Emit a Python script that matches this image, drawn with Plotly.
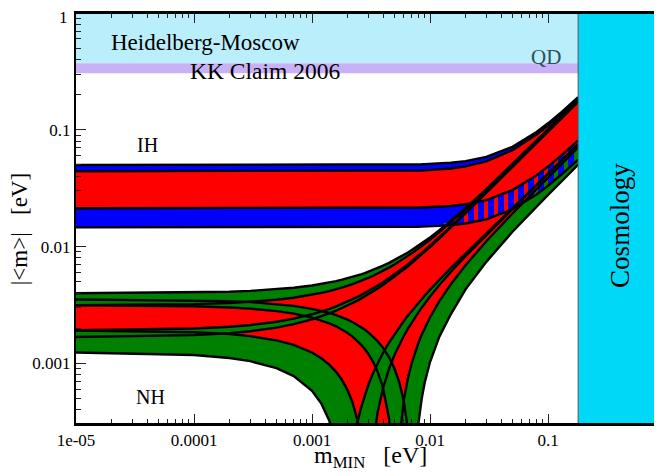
import numpy as np
import plotly.graph_objects as go

# lightest neutrino mass grid [eV]
m_min = [1e-5, 1e-4, 2e-4, 3e-4, 5e-4, 7e-4, 1e-3, 1.2e-3, 1.4e-3, 1.6e-3, 1.8e-3, 2e-3,
         2.2e-3, 2.4e-3, 2.6e-3, 2.8e-3, 3e-3, 3.3e-3, 3.6e-3, 4e-3, 4.5e-3, 5e-3, 5.5e-3,
         6e-3, 6.5e-3, 7e-3, 7.5e-3, 8e-3, 8.5e-3, 9e-3, 0.01, 0.012, 0.015, 0.02, 0.03,
         0.05, 0.08, 0.1, 0.13, 0.18]

# Inverted hierarchy boundaries |<m>| [eV]
ih_max_3s = [0.04997] * 7 + [0.04998, 0.04999, 0.05000, 0.05000, 0.05001, 0.05002, 0.05003,
             0.05004, 0.05005, 0.05006, 0.05008, 0.05010, 0.05014, 0.05018, 0.05023, 0.05028,
             0.05034, 0.05041, 0.05048, 0.05055, 0.05063, 0.05072, 0.05081, 0.0510, 0.05145,
             0.05227, 0.05397, 0.05859, 0.0714, 0.09568, 0.1136, 0.1417, 0.1903]
ih_max_bf = [0.0442] * 17 + [0.0443, 0.0443, 0.0443, 0.0444, 0.0444, 0.0445, 0.0445, 0.0446,
             0.0446, 0.0447, 0.0448, 0.0448, 0.0449, 0.04525, 0.04575, 0.04663, 0.04858,
             0.05371, 0.06685, 0.0910, 0.1086, 0.1361, 0.1838]
ih_min_bf = [0.0213] * 17 + [0.02136, 0.02137, 0.02138, 0.0214, 0.02142, 0.02144, 0.02147,
             0.0215, 0.02153, 0.02156, 0.02159, 0.02163, 0.02167, 0.02175, 0.02194, 0.02229,
             0.02302, 0.02499, 0.03045, 0.04081, 0.04844, 0.06043, 0.08115]
ih_min_3s = [0.0146] * 17 + [0.01463, 0.01464, 0.01465, 0.01466, 0.01467, 0.01469, 0.01471,
             0.01473, 0.01475, 0.01477, 0.01479, 0.01482, 0.01484, 0.0149, 0.01503, 0.01527,
             0.01577, 0.01712, 0.02086, 0.02796, 0.03319, 0.0414, 0.0556]

# Normal hierarchy curves |<m>| [eV]
nh_max_3s = [0.003986, 0.004044, 0.004109, 0.004175, 0.004308, 0.004442, 0.004646, 0.004783,
             0.004923, 0.005064, 0.005206, 0.005349, 0.005494, 0.005641, 0.005788, 0.005938,
             0.006089, 0.006318, 0.006549, 0.006861, 0.007258, 0.007662, 0.008072, 0.008487,
             0.008908, 0.009335, 0.009766, 0.010202, 0.010641, 0.011083, 0.011978, 0.0138,
             0.016591, 0.021341, 0.031026, 0.0507, 0.080467, 0.100381, 0.130297, 0.180216]
nh_max_bf = [0.003156, 0.003219, 0.003289, 0.00336, 0.003502, 0.003645, 0.003863, 0.00401,
             0.004158, 0.004307, 0.004458, 0.004609, 0.004762, 0.004916, 0.005072, 0.005229,
             0.005387, 0.005626, 0.005867, 0.006192, 0.006606, 0.007025, 0.007448, 0.007878,
             0.008312, 0.00875, 0.009193, 0.009639, 0.010088, 0.01054, 0.011453, 0.013309,
             0.016141, 0.020946, 0.030711, 0.050484, 0.080331, 0.100278, 0.130228, 0.180228]
nh_c_bf = [0.001926, 0.001989, 0.002059, 0.00213, 0.002272, 0.002415, 0.002633, 0.00278,
           0.002928, 0.003077, 0.003228, 0.003379, 0.003532, 0.003686, 0.003842, 0.003999,
           0.004155, 0.004394, 0.004635, 0.00496, 0.005372, 0.005789, 0.006212, 0.00664,
           0.007072, 0.007508, 0.007949, 0.008393, 0.00884, 0.00929, 0.010199, 0.012043,
           0.014855, 0.019618, 0.029269, 0.048726, 0.077977, 0.097482, 0.126742, 0.175546]
nh_c_3s = [0.001681, 0.001744, 0.001813, 0.001883, 0.002024, 0.002167, 0.002383, 0.002529,
           0.002676, 0.002824, 0.002974, 0.003124, 0.003275, 0.003428, 0.003583, 0.003739,
           0.003895, 0.004131, 0.004371, 0.004693, 0.005103, 0.005518, 0.005938, 0.006363,
           0.006792, 0.007226, 0.007663, 0.008105, 0.008549, 0.008996, 0.009898, 0.011731,
           0.014524, 0.019253, 0.028832, 0.048126, 0.077108, 0.096426, 0.125397, 0.173673]
nh_d_bf = [0.001912, 0.00185, 0.001781, 0.001712, 0.001575, 0.001439, 0.001239, 0.001107,
           0.000975, 0.000847, 0.000718, 0.000591, 0.000466, 0.000341, 0.000218, 0.000095,
           0.000026, 0.000205, 0.000382, 0.000615, 0.0009, 0.001178, 0.001452, 0.001721,
           0.001985, 0.002244, 0.0025, 0.002751, 0.003, 0.003246, 0.00374, 0.004689, 0.006066,
           0.008262, 0.01255, 0.020974, 0.03355, 0.041918, 0.054478, 0.075414]
nh_d_3s = [0.001241, 0.001181, 0.001112, 0.001045, 0.000911, 0.000778, 0.000582, 0.000452,
           0.000324, 0.000198, 0.000073, 0.000052, 0.000175, 0.000296, 0.000417, 0.000537,
           0.000656, 0.000831, 0.001004, 0.001231, 0.00151, 0.001781, 0.002049, 0.002311,
           0.002569, 0.002821, 0.003071, 0.003316, 0.003559, 0.003799, 0.004285, 0.005215,
           0.006571, 0.00871, 0.01292, 0.02124, 0.03371, 0.04203, 0.05454, 0.07542]
nh_b_bf = [0.003142, 0.00308, 0.003011, 0.002942, 0.002805, 0.002669, 0.002469, 0.002337,
           0.002205, 0.002077, 0.001948, 0.001821, 0.001696, 0.001571, 0.001448, 0.001325,
           0.001205, 0.001026, 0.000849, 0.000616, 0.000332, 0.000055, 0.000219, 0.000487,
           0.00075, 0.001008, 0.001263, 0.001513, 0.001762, 0.002007, 0.002484, 0.003415,
           0.004756, 0.006934, 0.011109, 0.019216, 0.031189, 0.039122, 0.050992, 0.070732]
nh_b_3s = [0.003528, 0.003472, 0.00341, 0.003349, 0.003227, 0.003108, 0.002931, 0.002815,
           0.002701, 0.002589, 0.002478, 0.002368, 0.002261, 0.002155, 0.00205, 0.001947,
           0.001845, 0.001695, 0.001549, 0.001358, 0.001127, 0.000903, 0.000686, 0.000475,
           0.00027, 0.000071, 0.000124, 0.000312, 0.000497, 0.000679, 0.001027, 0.001694,
           0.002633, 0.0043, 0.0074, 0.0134, 0.0221, 0.0277, 0.0361, 0.0503]

# experimental bands
hm_band = [0.371, 1.0]          # Heidelberg-Moscow
kk_band = [0.305, 0.371]        # KK claim 2006
cosmo_limit = 0.18              # cosmology bound on m_MIN

x_ticks = [1e-5, 1e-4, 1e-3, 1e-2, 1e-1]
x_ticktext = ["1e-05", "0.0001", "0.001", "0.01", "0.1"]
y_ticks = [1e-3, 1e-2, 1e-1, 1]
y_ticktext = ["0.001", "0.01", "0.1", "1"]

RED = "#ff0000"
GREEN = "#008000"
BLUE = "#0000ff"
TINY = 1e-6
SERIF = "Liberation Serif"

m = np.array(m_min)
A = lambda v: np.array(v, dtype=float)


def envelope(e1, e2):
    e1, e2 = A(e1), A(e2)
    up = np.maximum(e1, e2)
    lo = np.minimum(e1, e2)
    i, j = sorted([int(np.argmin(e1)), int(np.argmin(e2))])
    lo[i:j + 1] = TINY
    return up, lo


fig = go.Figure()


def band(x, up, lo, color, **kw):
    xs = list(x) + list(x)[::-1]
    ys = list(up) + list(lo)[::-1]
    fig.add_trace(go.Scatter(x=xs, y=ys, fill="toself", fillcolor=color, mode="lines",
                             line=dict(width=0, color=color), hoverinfo="skip", **kw))


# experimental bands
band([m_min[0], cosmo_limit], [hm_band[1]] * 2, [hm_band[0]] * 2, "#bbeefb")
band([m_min[0], cosmo_limit], [kk_band[1]] * 2, [kk_band[0]] * 2, "#c9b1f6")

# NH best-fit region
d_bf, b_bf = A(nh_d_bf), A(nh_b_bf)
iz_d, iz_b = int(np.argmin(d_bf)), int(np.argmin(b_bf))
idx = np.arange(len(m))
nh_lo = np.where(idx < iz_d, d_bf, np.where(idx > iz_b, b_bf, TINY))
band(m, nh_max_bf, nh_lo, RED)

# NH 3 sigma strips
band(m, nh_max_3s, nh_max_bf, GREEN)
band(m, nh_c_bf, nh_c_3s, GREEN)
u, l = envelope(nh_d_bf, nh_d_3s)
band(m, u, l, GREEN)
u, l = envelope(nh_b_bf, nh_b_3s)
band(m, u, l, GREEN)

# IH upper 3 sigma strip
band(m, ih_max_3s, ih_max_bf, BLUE)
# IH lower 3 sigma strip, hatched where overlapping NH region
xs = list(m) + list(m)[::-1]
ys = list(ih_min_bf) + list(ih_min_3s)[::-1]
fig.add_trace(go.Scatter(x=xs, y=ys, fill="toself", fillcolor="rgba(0,0,0,0)", mode="lines",
                         line=dict(width=0), hoverinfo="skip",
                         fillpattern=dict(shape="|", fgcolor=BLUE, bgcolor="rgba(0,0,0,0)",
                                          fgopacity=1, size=10, solidity=0.6)))
# solid part of lower strip above the NH region
lower = np.maximum(A(ih_min_3s), A(nh_max_3s))
ok = lower < A(ih_min_bf)
k = int(np.where(ok)[0].max())
lm = np.log10(m)
d0 = np.log10(nh_max_3s[k]) - np.log10(ih_min_bf[k])
d1 = np.log10(nh_max_3s[k + 1]) - np.log10(ih_min_bf[k + 1])
t = d0 / (d0 - d1)
mc = 10 ** (lm[k] + t * (lm[k + 1] - lm[k]))
vc = 10 ** (np.log10(ih_min_bf[k]) + t * (np.log10(ih_min_bf[k + 1]) - np.log10(ih_min_bf[k])))
xs = list(m[:k + 1]) + [mc] + list(m[:k + 1])[::-1]
ys = list(A(ih_min_bf)[:k + 1]) + [vc] + list(lower[:k + 1])[::-1]
fig.add_trace(go.Scatter(x=xs, y=ys, fill="toself", fillcolor=BLUE, mode="lines",
                         line=dict(width=0, color=BLUE), hoverinfo="skip"))
# IH best-fit region
band(m, ih_max_bf, ih_min_bf, RED)

# black boundary curves
for curve in [nh_max_3s, nh_max_bf, nh_c_bf, nh_c_3s, nh_d_bf, nh_d_3s, nh_b_bf, nh_b_3s,
              ih_max_3s, ih_max_bf, ih_min_bf, ih_min_3s]:
    fig.add_trace(go.Scatter(x=m, y=curve, mode="lines", line=dict(color="black", width=2.4),
                             hoverinfo="skip"))

axis_font = dict(family=SERIF, size=17, color="black")
common = dict(type="log", tickmode="array", ticks="inside", ticklen=10, tickwidth=1.2,
              tickcolor="#222", showline=True, linecolor="black", linewidth=2,
              mirror="ticks", showgrid=False, zeroline=False, tickfont=axis_font,
              automargin=False,
              minor=dict(ticks="inside", ticklen=5, tickwidth=1, tickcolor="#222",
                         dtick="D1", showgrid=False))
fig.update_xaxes(range=[-5, -0.034], tickvals=x_ticks, ticktext=x_ticktext, **common)
# the top label ("1") sits on the frame edge and is drawn as an annotation below
fig.update_yaxes(range=[-3.519, 0], tickvals=y_ticks,
                 ticktext=y_ticktext[:-1] + [""], **common)

shapes = [
    dict(type="rect", xref="x", yref="paper", x0=cosmo_limit, x1=5, y0=0, y1=1,
         fillcolor="#00d8f8", line=dict(color="#555555", width=1), layer="above"),
    dict(type="line", xref="paper", yref="paper", x0=0, x1=1, y0=1, y1=1,
         line=dict(color="black", width=2), layer="above"),
    dict(type="line", xref="paper", yref="paper", x0=0, x1=1, y0=0, y1=0,
         line=dict(color="black", width=2), layer="above"),
]

ann = [
    dict(text="Heidelberg-Moscow", x=0.2218, y=0.9294, size=23, color="black", angle=0),
    dict(text="KK Claim 2006", x=0.3225, y=0.8589, size=23.5, color="black", angle=0),
    dict(text="QD", x=0.802, y=0.893, size=21, color="#2f4f5a", angle=0),
    dict(text="IH", x=0.1212, y=0.679, size=20, color="black", angle=0),
    dict(text="NH", x=0.1263, y=0.0657, size=20, color="black", angle=0),
    dict(text="Cosmology", x=0.928, y=0.484, size=27, color="black", angle=-90),
    dict(text="m<sub>MIN</sub>   [eV]", x=0.503, y=-0.0803, size=24, color="black", angle=0),
    dict(text="|&lt;m&gt;|   [eV]", x=-0.0950, y=0.4745, size=23, color="black", angle=-90),
]
annotations = [dict(text=a["text"], x=a["x"], y=a["y"], xref="paper", yref="paper",
                    xanchor="center", yanchor="middle", showarrow=False,
                    textangle=a["angle"], font=dict(family=SERIF, size=a["size"],
                                                    color=a["color"])) for a in ann]
annotations.append(dict(text=y_ticktext[-1], x=-0.0105, y=0.99, xref="paper", yref="paper",
                        xanchor="right", yanchor="middle", showarrow=False,
                        font=axis_font))

# the page body adds an 8 px margin, so the figure is 8 px smaller than the window
fig.update_layout(width=654, height=468, margin=dict(l=68, r=0, t=5, b=52),
                  plot_bgcolor="white", paper_bgcolor="white", showlegend=False,
                  shapes=shapes, annotations=annotations)

fig.write_html("out.html")
